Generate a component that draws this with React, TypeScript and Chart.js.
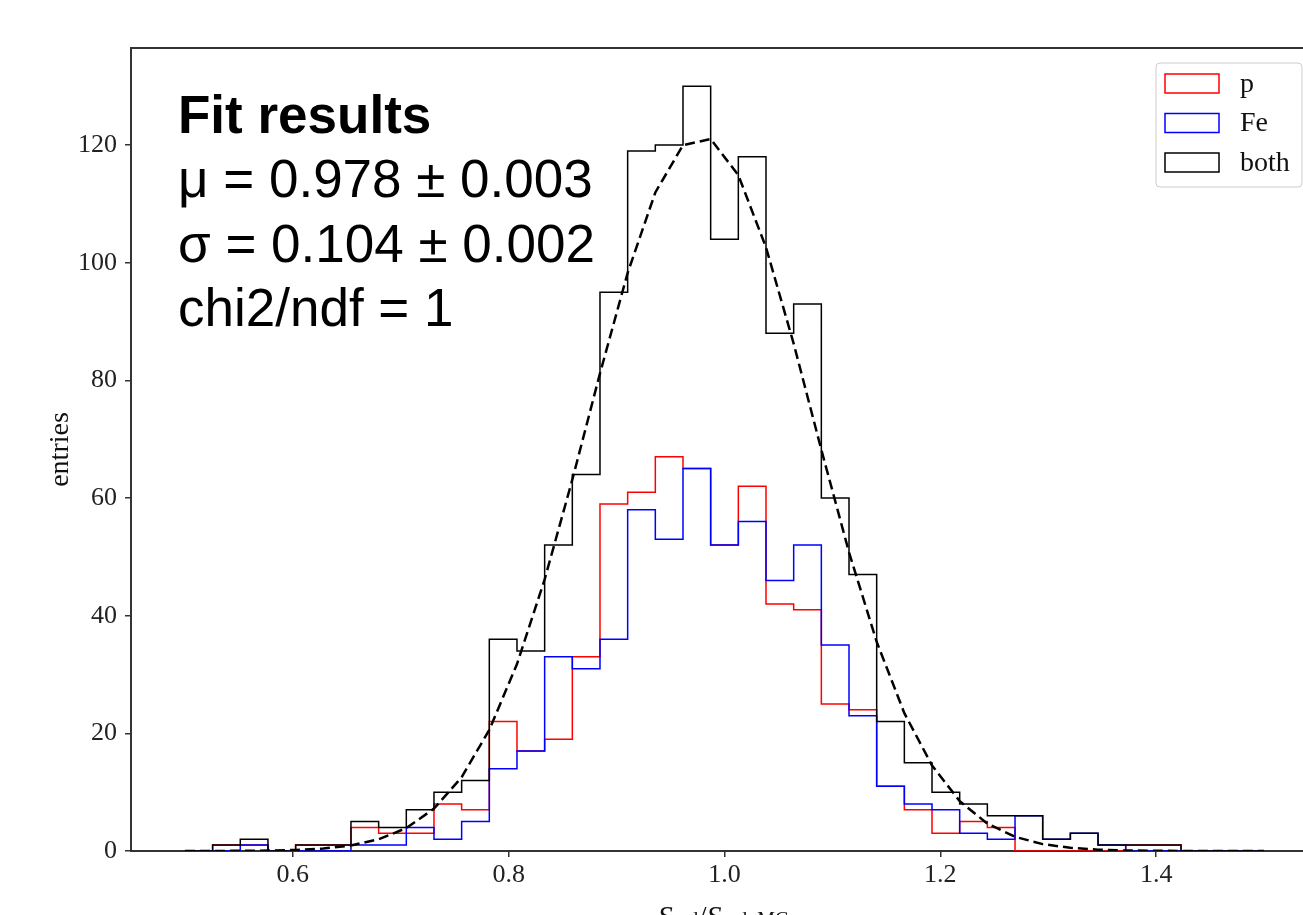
import React, { useEffect, useRef } from 'react';
import { Chart, registerables } from 'chart.js';

Chart.register(...registerables);

// Histogram binning: 39 equal bins between 0.5 and 1.5
const binLow = 0.5;
const binHigh = 1.5;
const binCount = 39;

// entries per bin
const pCounts = [0, 1, 1, 0, 1, 1, 4, 3, 3, 8, 7, 22, 17, 19, 33, 59, 61, 67, 65, 52, 62, 42, 41, 25, 24, 11, 7, 3, 5, 4, 0, 0, 0, 0, 1, 1, 0, 0, 0];
const feCounts = [0, 0, 1, 0, 0, 0, 1, 1, 4, 2, 5, 14, 17, 33, 31, 36, 58, 53, 65, 52, 56, 46, 52, 35, 23, 11, 8, 7, 3, 2, 6, 2, 3, 1, 0, 0, 0, 0, 0];
const bothCounts = [0, 1, 2, 0, 1, 1, 5, 4, 7, 10, 12, 36, 34, 52, 64, 95, 119, 120, 130, 104, 118, 88, 93, 60, 47, 22, 15, 10, 8, 6, 6, 2, 3, 1, 1, 1, 0, 0, 0];

// Gaussian fit curve sampled at the bin edges (40 points, 0.5 .. 1.5)
const fitValues = [0.0, 0.01, 0.03, 0.07, 0.18, 0.43, 0.94, 1.98, 3.89, 7.2, 12.55, 20.59, 31.78, 46.17, 63.12, 81.19, 98.28, 111.94, 119.99, 121.03, 114.88, 102.61, 86.25, 68.22, 50.78, 35.56, 23.44, 14.54, 8.48, 4.66, 2.41, 1.17, 0.54, 0.23, 0.09, 0.04, 0.01, 0.01, 0.0, 0.0];

const xTicks = [0.6, 0.8, 1.0, 1.2, 1.4];
const yTicks = [0, 20, 40, 60, 80, 100, 120];
const xRange = [0.45, 1.55];
const yRange = [0, 136.5];

const seriesNames = ['p', 'Fe', 'both'];
const seriesColors = ['#ff0000', '#0000ff', '#000000'];

const fitLines = ['Fit results', 'μ = 0.978 ± 0.003', 'σ = 0.104 ± 0.002', 'chi2/ndf = 1'];
const yTitle = 'entries';

const binWidth = (binHigh - binLow) / binCount;
const edge = (k: number) => binLow + k * binWidth;

function stepPoints(counts: number[]) {
  const pts: { x: number; y: number }[] = [{ x: edge(0), y: 0 }];
  counts.forEach((c, i) => pts.push({ x: edge(i), y: c }));
  pts.push({ x: edge(counts.length), y: 0 });
  return pts;
}

const fitPoints = fitValues.map((v, k) => ({ x: edge(k), y: v }));

const SERIF = '"Liberation Serif", "Times New Roman", serif';
const SANS = '"Liberation Sans", Arial, sans-serif';
const AXIS = '#333333';

const decorPlugin = {
  id: 'decor',
  afterDraw(chart: any) {
    const { ctx, chartArea: a } = chart;
    ctx.save();
    // top / right spines
    ctx.strokeStyle = AXIS;
    ctx.lineWidth = 2;
    ctx.beginPath();
    ctx.moveTo(a.left, a.top);
    ctx.lineTo(a.right, a.top);
    ctx.lineTo(a.right, a.bottom);
    ctx.stroke();

    // fit results text
    ctx.fillStyle = '#000';
    ctx.textAlign = 'left';
    ctx.textBaseline = 'alphabetic';
    fitLines.forEach((t, i) => {
      ctx.font = `${i === 0 ? 'bold ' : ''}53px ${SANS}`;
      ctx.fillText(t, a.left + 47, a.top + 85 + i * 64.3);
    });

    // legend
    const bx = a.right - 162;
    const by = a.top + 15;
    const bw = 146;
    const bh = 124;
    ctx.beginPath();
    ctx.roundRect(bx, by, bw, bh, 4);
    ctx.fillStyle = 'rgba(255,255,255,0.85)';
    ctx.fill();
    ctx.strokeStyle = '#cccccc';
    ctx.lineWidth = 1;
    ctx.stroke();
    seriesNames.forEach((name, i) => {
      const cy = by + 20.5 + i * 39.5;
      ctx.strokeStyle = seriesColors[i];
      ctx.lineWidth = 1.5;
      ctx.strokeRect(bx + 9, cy - 9.5, 54, 19);
      ctx.fillStyle = '#111';
      ctx.font = `28px ${SERIF}`;
      ctx.textBaseline = 'middle';
      ctx.fillText(name, bx + 84, cy + 1);
    });

    // y axis title
    ctx.save();
    ctx.translate(68, (a.top + a.bottom) / 2);
    ctx.rotate(-Math.PI / 2);
    ctx.textAlign = 'center';
    ctx.textBaseline = 'alphabetic';
    ctx.font = `28px ${SERIF}`;
    ctx.fillStyle = '#111';
    ctx.fillText(yTitle, 0, 0);
    ctx.restore();

    // x axis title: S_rad / S_rad, MC
    const parts = [
      { t: 'S', f: `italic 30px ${SERIF}`, dy: 0 },
      { t: 'rad', f: `20px ${SERIF}`, dy: 0 },
      { t: '/', f: `30px ${SERIF}`, dy: 0 },
      { t: 'S', f: `italic 30px ${SERIF}`, dy: 0 },
      { t: 'rad, MC', f: `20px ${SERIF}`, dy: 0 },
    ];
    let total = 0;
    parts.forEach((p) => {
      ctx.font = p.f;
      total += ctx.measureText(p.t).width;
    });
    let x = 723 - total / 2;
    const base = a.bottom + 75;
    ctx.textAlign = 'left';
    ctx.textBaseline = 'alphabetic';
    ctx.fillStyle = '#111';
    parts.forEach((p) => {
      ctx.font = p.f;
      ctx.fillText(p.t, x, base + p.dy);
      x += ctx.measureText(p.t).width;
    });
    ctx.restore();
  },
};

export default function App() {
  const ref = useRef<HTMLCanvasElement | null>(null);
  useEffect(() => {
    if (!ref.current) return;
    const lineBase = {
      pointRadius: 0,
      borderWidth: 1.5,
      fill: false,
      tension: 0,
      stepped: true,
    };
    const chart = new Chart(ref.current, {
      type: 'line',
      data: {
        datasets: [
          {
            label: 'fit',
            data: fitPoints,
            borderColor: '#000',
            borderWidth: 2.5,
            borderDash: [10, 5],
            pointRadius: 0,
            fill: false,
            tension: 0,
            order: 0,
          },
          { ...lineBase, label: seriesNames[2], data: stepPoints(bothCounts), borderColor: seriesColors[2], order: 1 },
          { ...lineBase, label: seriesNames[1], data: stepPoints(feCounts), borderColor: seriesColors[1], order: 2 },
          { ...lineBase, label: seriesNames[0], data: stepPoints(pCounts), borderColor: seriesColors[0], order: 3 },
        ] as any,
      },
      options: {
        animation: false,
        responsive: false,
        devicePixelRatio: 1,
        events: [],
        layout: { padding: { left: 0, top: 48, right: 12, bottom: 0 } },
        plugins: { legend: { display: false }, tooltip: { enabled: false } },
        scales: {
          x: {
            type: 'linear',
            min: xRange[0],
            max: xRange[1],
            afterBuildTicks: (s: any) => {
              s.ticks = xTicks.map((v) => ({ value: v }));
            },
            afterFit: (s: any) => {
              s.height = 64;
            },
            grid: { drawOnChartArea: false, drawTicks: true, tickLength: 6, color: AXIS, lineWidth: 1.5 },
            border: { display: true, color: AXIS, width: 2 },
            ticks: {
              padding: 3,
              color: '#222',
              font: { family: SERIF, size: 26 },
              maxRotation: 0,
              autoSkip: false,
              callback: (v: any) => Number(v).toFixed(1),
            },
          },
          y: {
            type: 'linear',
            min: yRange[0],
            max: yRange[1],
            afterBuildTicks: (s: any) => {
              s.ticks = yTicks.map((v) => ({ value: v }));
            },
            afterFit: (s: any) => {
              s.width = 131;
            },
            grid: { drawOnChartArea: false, drawTicks: true, tickLength: 6, color: AXIS, lineWidth: 1.5 },
            border: { display: true, color: AXIS, width: 2 },
            ticks: {
              padding: 8,
              color: '#222',
              font: { family: SERIF, size: 26 },
              autoSkip: false,
              callback: (v: any) => String(Math.round(Number(v))),
            },
          },
        },
      },
      plugins: [decorPlugin],
    });
    return () => chart.destroy();
  }, []);

  return (
    <div
      style={{
        position: 'fixed',
        left: 0,
        top: 0,
        width: 1303,
        height: 915,
        overflow: 'hidden',
        background: '#fff',
      }}
    >
      <canvas ref={ref} width={1330} height={915} style={{ display: 'block', width: 1330, height: 915 }} />
    </div>
  );
}
